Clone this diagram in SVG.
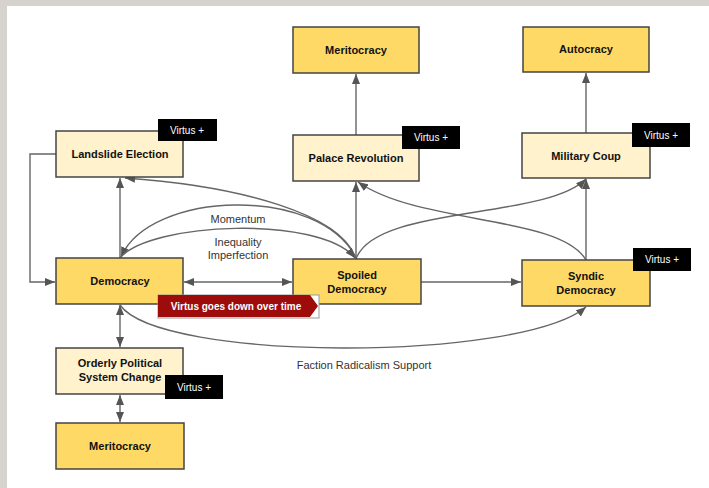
<svg xmlns="http://www.w3.org/2000/svg" width="709" height="488" viewBox="0 0 709 488">
<defs>
<style>
.n rect{stroke:#444;stroke-width:1.5}
.d{fill:#ffd966}
.l{fill:#fff2cc}
.t{font-family:"Liberation Sans",Arial,sans-serif;font-size:11px;font-weight:bold;fill:#111;text-anchor:middle}
.v rect{fill:#000;stroke:none}
.vt{font-family:"Liberation Sans",Arial,sans-serif;font-size:10px;fill:#fff;text-anchor:middle}
.c path{fill:none;stroke:#666;stroke-width:1.4}
.lb{font-family:"Liberation Sans",Arial,sans-serif;font-size:11px;fill:#333;text-anchor:middle}
</style>
<marker id="a" viewBox="0 0 10 8" refX="10" refY="4" markerWidth="10" markerHeight="8" markerUnits="userSpaceOnUse" orient="auto-start-reverse">
<path d="M0,0 L10,4 L0,8 z" fill="#555"/>
</marker>
</defs>
<rect x="0" y="0" width="709" height="488" fill="#d6d3cf"/>
<rect x="7" y="6" width="702" height="482" fill="#fff"/>

<g id="connectors" class="c">
<path d="M356,135 V74" marker-end="url(#a)"/>
<path d="M586,133 V73" marker-end="url(#a)"/>
<path d="M356,259 V182" marker-end="url(#a)"/>
<path d="M586,260 V179" marker-end="url(#a)"/>
<path d="M421,282 H521" marker-end="url(#a)"/>
<path d="M184,282 H292" marker-start="url(#a)" marker-end="url(#a)"/>
<path d="M120,258 V178" marker-end="url(#a)"/>
<path d="M56,154 H30 V282 H55" marker-end="url(#a)"/>
<path d="M120,305 V347" marker-start="url(#a)" marker-end="url(#a)"/>
<path d="M120,395 V422" marker-start="url(#a)" marker-end="url(#a)"/>
<path d="M356,259 C342,214 240,186 125,178" marker-end="url(#a)"/>
<path d="M356,258 C320,185 150,190 121,257" marker-end="url(#a)"/>
<path d="M120,258 C150,222 320,215 355,258" marker-end="url(#a)"/>
<path d="M356,259 C375,205 545,220 586,179" marker-end="url(#a)"/>
<path d="M586,260 C560,215 420,225 358,182" marker-end="url(#a)"/>
<path d="M120,305 C160,362 520,362 586,307" marker-end="url(#a)"/>
</g>

<g id="labels">
<text class="lb" x="238" y="223">Momentum</text>
<text class="lb" x="238" y="246">Inequality</text>
<text class="lb" x="238" y="259">Imperfection</text>
<text class="lb" x="364" y="369">Faction Radicalism Support</text>
</g>

<g id="meritocracy-top" class="n"><rect class="d" x="293" y="27" width="126" height="46"/><text class="t" x="356" y="54">Meritocracy</text></g>
<g id="autocracy" class="n"><rect class="d" x="523" y="27" width="126" height="45"/><text class="t" x="586" y="53">Autocracy</text></g>
<g id="landslide" class="n"><rect class="l" x="56" y="131" width="127" height="46"/><text class="t" x="120" y="158">Landslide Election</text></g>
<g id="palace" class="n"><rect class="l" x="293" y="135" width="126" height="46"/><text class="t" x="356" y="162">Palace Revolution</text></g>
<g id="military" class="n"><rect class="l" x="522" y="133" width="128" height="45"/><text class="t" x="586" y="160">Military Coup</text></g>
<g id="democracy" class="n"><rect class="d" x="56" y="258" width="127" height="46"/><text class="t" x="120" y="285">Democracy</text></g>
<g id="spoiled" class="n"><rect class="d" x="293" y="259" width="128" height="45"/><text class="t" x="357" y="279">Spoiled</text><text class="t" x="357" y="293">Democracy</text></g>
<g id="syndic" class="n"><rect class="d" x="522" y="260" width="128" height="46"/><text class="t" x="586" y="280">Syndic</text><text class="t" x="586" y="294">Democracy</text></g>
<g id="orderly" class="n"><rect class="l" x="56" y="348" width="127" height="46"/><text class="t" x="120" y="367">Orderly Political</text><text class="t" x="120" y="381">System Change</text></g>
<g id="meritocracy-bottom" class="n"><rect class="d" x="56" y="423" width="128" height="46"/><text class="t" x="120" y="450">Meritocracy</text></g>

<g id="virtus-landslide" class="v"><rect x="158" y="119" width="59" height="22"/><text class="vt" x="187" y="134">Virtus +</text></g>
<g id="virtus-palace" class="v"><rect x="402" y="126" width="58" height="23"/><text class="vt" x="431" y="141">Virtus +</text></g>
<g id="virtus-military" class="v"><rect x="632" y="123" width="58" height="24"/><text class="vt" x="661" y="139">Virtus +</text></g>
<g id="virtus-syndic" class="v"><rect x="633" y="248" width="58" height="23"/><text class="vt" x="662" y="263">Virtus +</text></g>
<g id="virtus-orderly" class="v"><rect x="165" y="375" width="58" height="24"/><text class="vt" x="194" y="391">Virtus +</text></g>

<g id="virtus-down">
<rect x="158" y="295" width="161" height="23" fill="#fff" stroke="#999" stroke-width="1"/>
<path d="M158,295 H310 L318,306 L310,317 H158 Z" fill="#9e0b0b"/>
<text x="236" y="310" font-family="Liberation Sans, Arial, sans-serif" font-size="10" font-weight="bold" fill="#fff" text-anchor="middle">Virtus goes down over time</text>
</g>
</svg>
